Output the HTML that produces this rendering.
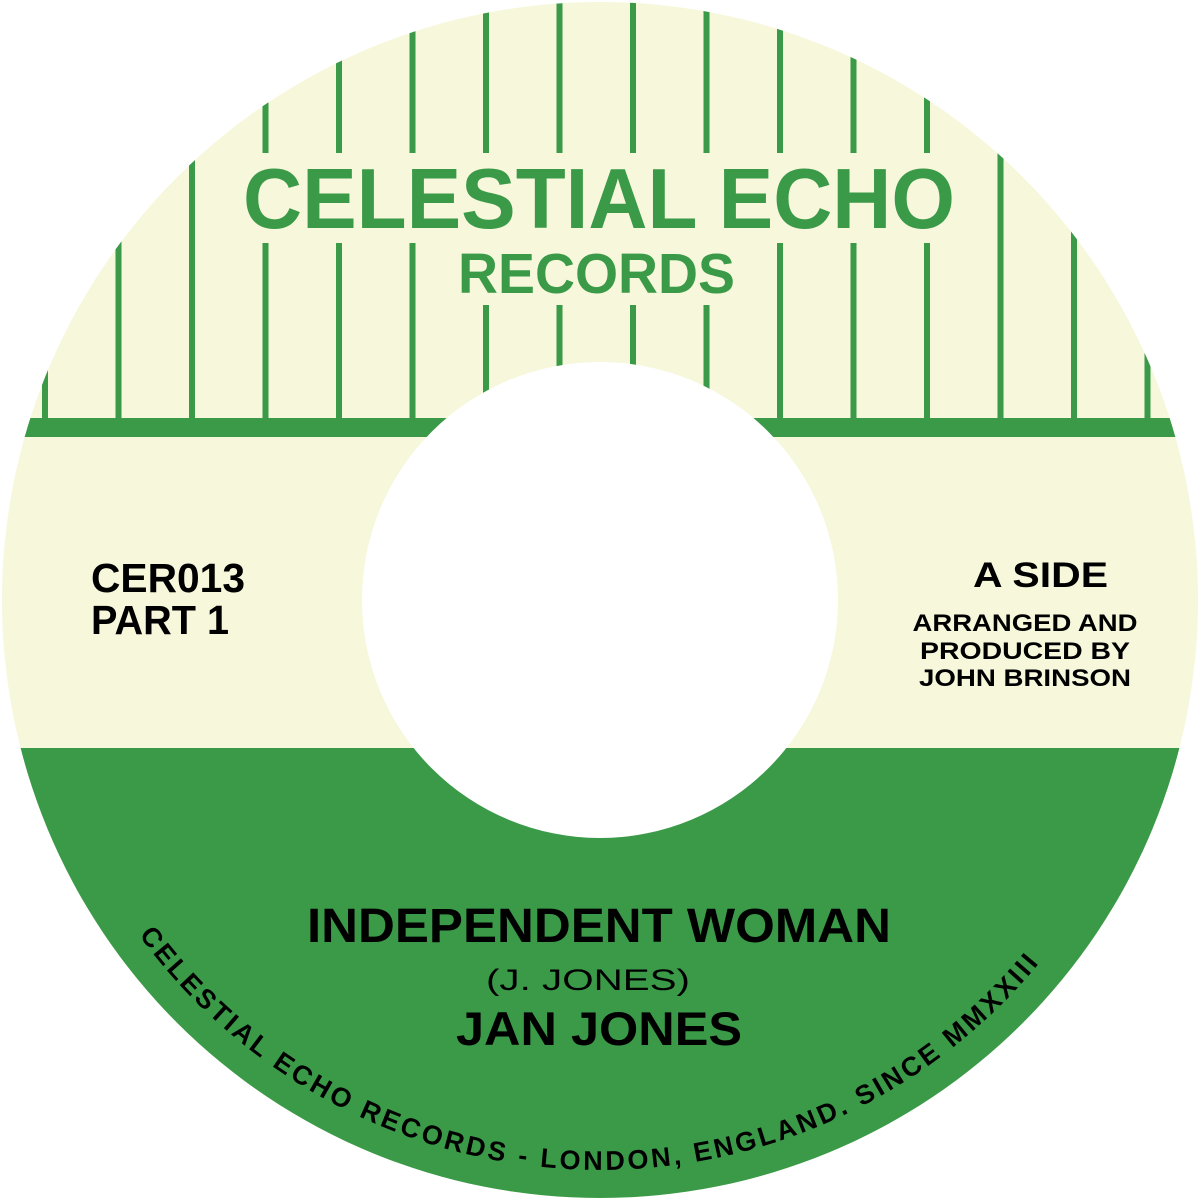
<!DOCTYPE html>
<html><head><meta charset="utf-8"><style>
html,body{margin:0;padding:0;background:#fff;width:1200px;height:1200px;overflow:hidden}
svg{display:block}
text{font-family:"Liberation Sans",Arial,sans-serif;font-weight:bold}
</style></head><body>
<svg width="1200" height="1200" viewBox="0 0 1200 1200" xmlns="http://www.w3.org/2000/svg">
<defs>
<clipPath id="disc"><circle cx="600" cy="600" r="598"/></clipPath>
</defs>
<g clip-path="url(#disc)">
<rect x="0" y="0" width="1200" height="1200" fill="#f7f7dc"/>
<g fill="#3a9a48">
<rect x="42" y="0" width="6" height="430"/>
<rect x="115.5" y="0" width="6" height="430"/>
<rect x="189" y="0" width="6" height="430"/>
<rect x="262.5" y="0" width="6" height="430"/>
<rect x="336" y="0" width="6" height="430"/>
<rect x="409.5" y="0" width="6" height="430"/>
<rect x="483" y="0" width="6" height="430"/>
<rect x="556.5" y="0" width="6" height="430"/>
<rect x="630" y="0" width="6" height="430"/>
<rect x="703.5" y="0" width="6" height="430"/>
<rect x="777" y="0" width="6" height="430"/>
<rect x="850.5" y="0" width="6" height="430"/>
<rect x="924" y="0" width="6" height="430"/>
<rect x="997.5" y="0" width="6" height="430"/>
<rect x="1071" y="0" width="6" height="430"/>
<rect x="1144.5" y="0" width="6" height="430"/>
<rect x="0" y="418" width="1200" height="19"/>
</g>
<rect x="235" y="153" width="725" height="90" fill="#f7f7dc"/>
<rect x="450" y="153" width="295" height="152" fill="#f7f7dc"/>
<rect x="0" y="748" width="1200" height="460" fill="#3a9a48"/>
</g>
<circle cx="600" cy="600" r="238" fill="#ffffff"/>

<text x="243" y="228" font-size="85" fill="#3a9a48" textLength="712" lengthAdjust="spacingAndGlyphs">CELESTIAL ECHO</text>
<text x="458" y="293" font-size="57" fill="#3a9a48" textLength="277" lengthAdjust="spacingAndGlyphs">RECORDS</text>

<text x="91" y="592" font-size="41" fill="#000" textLength="154" lengthAdjust="spacingAndGlyphs">CER013</text>
<text x="91" y="634" font-size="41" fill="#000" textLength="138" lengthAdjust="spacingAndGlyphs">PART 1</text>

<text x="973" y="587" font-size="35" fill="#000" textLength="135" lengthAdjust="spacingAndGlyphs">A SIDE</text>
<text x="1025" y="631" font-size="24" fill="#000" text-anchor="middle" textLength="225" lengthAdjust="spacingAndGlyphs">ARRANGED AND</text>
<text x="1025" y="659" font-size="24" fill="#000" text-anchor="middle" textLength="210" lengthAdjust="spacingAndGlyphs">PRODUCED BY</text>
<text x="1025" y="686" font-size="24" fill="#000" text-anchor="middle" textLength="212" lengthAdjust="spacingAndGlyphs">JOHN BRINSON</text>

<text x="307" y="942" font-size="48" fill="#000" textLength="584" lengthAdjust="spacingAndGlyphs">INDEPENDENT WOMAN</text>
<text x="486" y="990" font-size="30" fill="#000" style="font-weight:normal" textLength="204" lengthAdjust="spacingAndGlyphs">(J. JONES)</text>
<text x="456" y="1045" font-size="47" fill="#000" textLength="286" lengthAdjust="spacingAndGlyphs">JAN JONES</text>

<path id="arc" d="M 138.9 935 A 570 570 0 0 0 1061.1 935" fill="none"/>
<text font-size="27" fill="#000" letter-spacing="3"><textPath href="#arc" startOffset="0">CELESTIAL ECHO RECORDS - LONDON, ENGLAND. SINCE MMXXIII</textPath></text>
</svg>
</body></html>
